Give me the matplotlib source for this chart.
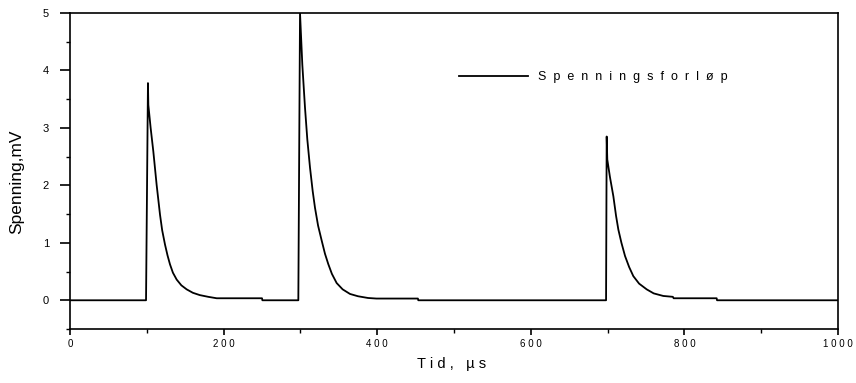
import matplotlib
matplotlib.use("Agg")
import matplotlib.pyplot as plt
from matplotlib.ticker import MultipleLocator, FixedLocator, FixedFormatter

plt.rcParams['font.family'] = ['Liberation Sans', 'DejaVu Sans']

# Time (us) and voltage (mV)
t = [0, 99, 101.5, 102, 105, 108.5, 112.8, 117.2, 120, 123.7, 127, 130.2, 134,
     138.9, 145, 151.9, 160, 169, 180, 191, 250, 250.5,
     297.3, 299.5, 302.5, 306, 309, 312.5, 316, 319, 323, 327.7, 332, 336.3,
     341, 347.2, 355, 364.6, 375, 388, 399, 453, 453.5,
     698, 698.8, 699.6, 703, 707.5, 711, 714, 718, 722.7, 728, 733.5, 741,
     750.9, 760, 772.5, 785, 786, 842, 842.5, 1000]
v = [0, 0, 3.78, 3.40, 3.0, 2.59, 2.01, 1.49, 1.22, 0.97, 0.78, 0.625, 0.48,
     0.36, 0.26, 0.19, 0.13, 0.09, 0.06, 0.035, 0.035, 0.0,
     0.0, 5.0, 4.10, 3.35, 2.80, 2.31, 1.90, 1.61, 1.30, 1.04, 0.81, 0.63,
     0.46, 0.30, 0.19, 0.11, 0.07, 0.04, 0.03, 0.03, 0.0,
     0.0, 2.85, 2.45, 2.15, 1.81, 1.47, 1.23, 1.0, 0.77, 0.58, 0.42, 0.29,
     0.19, 0.12, 0.075, 0.06, 0.035, 0.035, 0.0, 0.0]

x_ticks = [0, 200, 400, 600, 800, 1000]
x_tick_labels = ["0", "2 0 0", "4 0 0", "6 0 0", "8 0 0", "1 0 0 0"]
y_ticks = [0, 1, 2, 3, 4, 5]
series_label = "S  p  e  n  n  i  n  g  s  f  o  r  l  ø  p"

fig = plt.figure(figsize=(8.56, 3.83), dpi=100)
ax = fig.add_axes([70/856, 1-329/383, (838-70)/856, (329-13)/383])

ax.plot(t, v, color='black', lw=1.3, label=series_label)

ax.set_xlim(0, 1000)
ax.set_ylim(-0.5, 5)
ax.xaxis.set_major_locator(FixedLocator(x_ticks))
ax.xaxis.set_major_formatter(FixedFormatter(x_tick_labels))
ax.xaxis.set_minor_locator(MultipleLocator(100))
ax.yaxis.set_major_locator(FixedLocator(y_ticks))
ax.yaxis.set_minor_locator(MultipleLocator(0.5))

for s in ax.spines.values():
    s.set_linewidth(1.2)
ax.tick_params(axis='x', which='major', direction='out', length=4, width=1.2,
               labelsize=7, pad=3)
ax.tick_params(axis='x', which='minor', direction='out', length=3, width=1.0)
ax.tick_params(axis='y', which='major', direction='out', length=7.5, width=1.2,
               labelsize=8, pad=7.5)
ax.tick_params(axis='y', which='minor', direction='out', length=3, width=1.0)

ax.set_xlabel("T i d ,   µ s", fontsize=10.5)
ax.xaxis.set_label_coords(0.497, -0.088)
ax.set_ylabel("Spenning,mV", fontsize=12.5)
ax.yaxis.set_label_coords(-0.06, 0.465)

leg = ax.legend(loc='center left', bbox_to_anchor=(0.507, 0.797), frameon=False,
                fontsize=9, handlelength=5.5, handletextpad=0.8,
                borderpad=0, borderaxespad=0)

fig.savefig("out.png", dpi=100)
